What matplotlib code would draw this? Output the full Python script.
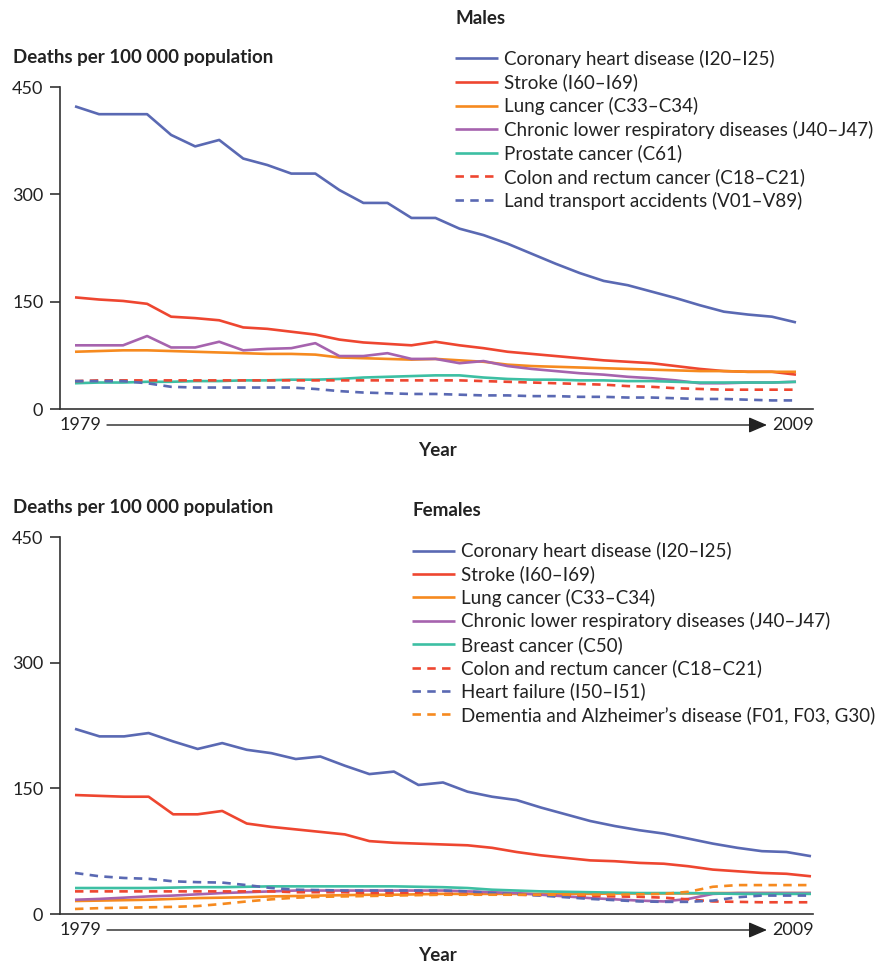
import numpy as np
import matplotlib
matplotlib.use('Agg')
import matplotlib.pyplot as plt

plt.rcParams['font.family'] = ['Lato', 'DejaVu Sans']

W, H = 877, 963

years = np.arange(1979, 2010)

# Males
m_chd = [423, 412, 412, 412, 383, 367, 376, 350, 341, 329, 329, 306, 288, 288, 267, 267,
         252, 243, 231, 217, 203, 190, 179, 173, 164, 155, 145, 136, 132, 129, 121]
m_stroke = [156, 153, 151, 147, 129, 127, 124, 114, 112, 108, 104, 97, 93, 91, 89, 94,
            89, 85, 80, 77, 74, 71, 68, 66, 64, 60, 56, 53, 52, 52, 48]
m_lung = [80, 81, 82, 82, 81, 80, 79, 78, 77, 77, 76, 72, 71, 70, 69, 70,
          68, 66, 62, 60, 59, 58, 57, 56, 55, 54, 53, 53, 52, 52, 52]
m_clrd = [89, 89, 89, 102, 86, 86, 94, 82, 84, 85, 92, 74, 74, 78, 70, 70,
          64, 67, 60, 56, 53, 50, 48, 45, 43, 40, 36, 36, 37, 37, 38]
m_prostate = [36, 37, 37, 38, 38, 39, 39, 40, 40, 41, 41, 42, 44, 45, 46, 47,
              47, 44, 42, 41, 41, 40, 40, 39, 39, 38, 37, 37, 37, 37, 38]
m_colon = [39, 40, 40, 40, 40, 40, 40, 40, 40, 40, 40, 40, 40, 40, 40, 40,
           40, 39, 38, 37, 36, 35, 34, 32, 31, 29, 28, 27, 27, 27, 27]
m_transport = [39, 39, 39, 36, 31, 30, 30, 30, 30, 30, 28, 25, 23, 22, 21, 21,
               20, 19, 19, 18, 18, 17, 17, 16, 16, 15, 14, 14, 13, 12, 12]

# Females
f_chd = [221, 212, 212, 216, 206, 197, 204, 196, 192, 185, 188, 177, 167, 170, 154, 157,
         146, 140, 136, 127, 119, 111, 105, 100, 96, 90, 84, 79, 75, 74, 69]
f_stroke = [142, 141, 140, 140, 119, 119, 123, 108, 104, 101, 98, 95, 87, 85, 84, 83,
            82, 79, 74, 70, 67, 64, 63, 61, 60, 57, 53, 51, 49, 48, 45]
f_lung = [15.5, 16, 16.5, 17, 18, 19, 19.5, 20, 21, 21.5, 22, 22.5, 23, 23, 23.5, 24,
          24, 24, 24, 24, 24, 24, 24.5, 24.5, 24.5, 24.5, 25, 25, 25, 25, 25]
f_clrd = [17, 18, 19.5, 21, 22, 23.5, 25, 26, 27, 28, 28, 28, 28, 28, 28, 28,
          27, 26, 25, 23, 21, 19, 17.5, 16, 15, 18, 24, 25, 25, 25, 25]
f_breast = [31, 31, 31, 31, 31.5, 32, 32, 32.5, 33, 33, 33, 33, 33, 33, 32.5, 32,
            31, 29, 28, 27, 26.5, 26, 25.5, 25, 25, 25, 24.5, 24, 24, 24, 24]
f_colon = [27, 27, 27, 27, 27, 27, 27, 27, 27, 26, 26, 26, 25, 25, 25, 24,
           24, 23.5, 23, 22.5, 22, 21.5, 21, 20.5, 19.5, 17.5, 15, 14.5, 14, 14, 14]
f_hf = [49, 45, 43, 42, 39, 38, 37.5, 34.5, 31, 29, 28.5, 28, 28, 28, 28, 28,
        27, 25, 23.5, 22, 20, 18, 16.5, 15, 14.5, 14.5, 16, 20, 22, 22, 22]
f_dementia = [6, 7, 7.5, 8, 8.5, 9.5, 12, 15, 17.5, 19.5, 20.5, 21, 21.5, 22, 22.5, 23,
              23, 23, 23, 23, 23, 23, 23, 23.5, 24, 26.5, 32.5, 34.5, 34.5, 34.5, 34.5]

BLUE = '#5a69b3'
RED = '#ee4630'
ORANGE = '#f68a1f'
PURPLE = '#a663ae'
TEAL = '#3dbfa3'
DASH = (0, (3.2, 2.4))
LW = 1.9
FS = 13.5

males = [
    (m_chd, BLUE, '-', 'Coronary heart disease (I20–I25)'),
    (m_stroke, RED, '-', 'Stroke (I60–I69)'),
    (m_lung, ORANGE, '-', 'Lung cancer (C33–C34)'),
    (m_clrd, PURPLE, '-', 'Chronic lower respiratory diseases (J40–J47)'),
    (m_prostate, TEAL, '-', 'Prostate cancer (C61)'),
    (m_colon, RED, DASH, 'Colon and rectum cancer (C18–C21)'),
    (m_transport, BLUE, DASH, 'Land transport accidents (V01–V89)'),
]
females = [
    (f_chd, BLUE, '-', 'Coronary heart disease (I20–I25)'),
    (f_stroke, RED, '-', 'Stroke (I60–I69)'),
    (f_lung, ORANGE, '-', 'Lung cancer (C33–C34)'),
    (f_clrd, PURPLE, '-', 'Chronic lower respiratory diseases (J40–J47)'),
    (f_breast, TEAL, '-', 'Breast cancer (C50)'),
    (f_colon, RED, DASH, 'Colon and rectum cancer (C18–C21)'),
    (f_hf, BLUE, DASH, 'Heart failure (I50–I51)'),
    (f_dementia, ORANGE, DASH, 'Dementia and Alzheimer’s disease (F01, F03, G30)'),
]


def fx(x):
    return x / W


def fy(y):
    return 1 - y / H


def make_panel(fig, series, top, bottom, x2009, title, title_y, leg_x, leg_y,
               ylab_y, year_row, year_label_y, spacing):
    left, right = 60, 813
    ax = fig.add_axes([fx(left), fy(bottom), fx(right - left), (bottom - top) / H])
    pxyr = (x2009 - 75) / 30.0
    ax.set_xlim(1979 - 15 / pxyr, 2009 + (right - x2009) / pxyr)
    ax.set_ylim(0, 450)

    handles = []
    # solid lines first, dashed on top
    for vals, color, ls, label in series:
        z = 3 if ls == '-' else 4
        h, = ax.plot(years, vals, color=color, linestyle=ls, lw=LW, label=label,
                     solid_capstyle='butt', dash_capstyle='butt', zorder=z)
        handles.append(h)

    for s in ['top', 'right']:
        ax.spines[s].set_visible(False)
    for s in ['left', 'bottom']:
        ax.spines[s].set_linewidth(1.2)
        ax.spines[s].set_color('#333333')
    ax.set_xticks([])
    ax.set_yticks([0, 150, 300, 450])
    ax.tick_params(axis='y', length=7, width=1.2, color='#333333', pad=5,
                   labelsize=13, labelcolor='#222222')

    fig.text(fx(13), fy(ylab_y), 'Deaths per 100 000 population', fontsize=FS,
             fontweight='bold', color='#222222', va='center', ha='left')
    fig.text(fx(leg_x), fy(title_y), title, fontsize=FS, fontweight='bold',
             color='#222222', va='center', ha='left')

    leg = fig.legend(handles=handles, loc='upper left',
                     bbox_to_anchor=(fx(leg_x), fy(leg_y)), frameon=False,
                     fontsize=FS, handlelength=2.3, handletextpad=0.3,
                     labelspacing=spacing, borderpad=0, borderaxespad=0)
    for t in leg.get_texts():
        t.set_color('#222222')

    # year arrow row
    fig.text(fx(60), fy(year_row), '1979', fontsize=13, color='#222222',
             va='center', ha='left')
    fig.text(fx(814), fy(year_row), '2009', fontsize=13, color='#222222',
             va='center', ha='right')
    fig.add_artist(matplotlib.patches.FancyArrowPatch(
        (fx(107), fy(year_row)), (fx(767), fy(year_row)),
        transform=fig.transFigure, arrowstyle='-|>,head_length=7,head_width=3',
        mutation_scale=1.6, color='#222222', lw=1.0, shrinkA=0, shrinkB=0))
    fig.text(fx(437), fy(year_label_y), 'Year', fontsize=FS, fontweight='bold',
             color='#222222', va='center', ha='center')
    return ax


fig = plt.figure(figsize=(W / 100, H / 100), dpi=100)

make_panel(fig, males, top=87, bottom=409, x2009=796, title='Males', title_y=18,
           leg_x=455, leg_y=50, ylab_y=57, year_row=425, year_label_y=450,
           spacing=0.30)
make_panel(fig, females, top=537, bottom=914, x2009=811, title='Females', title_y=511,
           leg_x=412, leg_y=542, ylab_y=508, year_row=930, year_label_y=955,
           spacing=0.29)

fig.savefig('out.png', dpi=100)
